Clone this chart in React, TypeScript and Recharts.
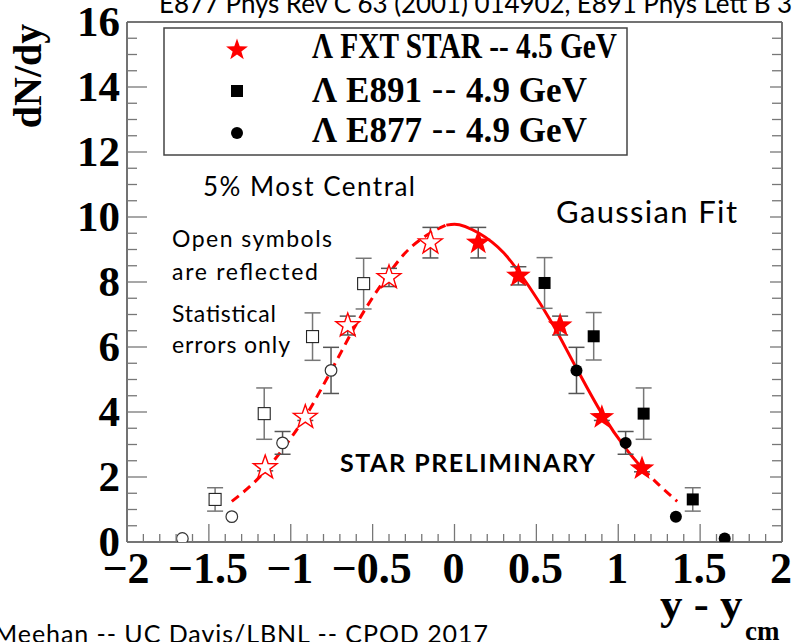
import { ComposedChart, Line, Scatter, XAxis, YAxis, ErrorBar, ReferenceLine } from 'recharts'

// STAR fixed-target, measured side (filled stars)
const starX = [0.145, 0.39, 0.645, 0.9, 1.145]
const starY = [9.21, 8.19, 6.66, 3.84, 2.26]
const starErr = [0.47, 0.28, 0.29, 0.1, 0.1]
// reflected STAR points (open stars)
const starReflX = [-0.147, -0.4, -0.652, -0.911, -1.156]
const starReflY = [9.21, 8.14, 6.66, 3.84, 2.29]
const starReflErr = [0.47, 0.28, 0.29, 0.1, 0.1]

// E891 (squares)
const e891X = [0.55, 0.85, 1.155, 1.455]
const e891Y = [7.97, 6.33, 3.95, 1.31]
const e891Err = [0.78, 0.73, 0.79, 0.36]
const e891ReflX = [-0.555, -0.867, -1.162, -1.462]
const e891ReflY = [7.95, 6.32, 3.95, 1.31]
const e891ReflErr = [0.78, 0.73, 0.79, 0.36]

// E877 (circles)
const e877X = [0.745, 1.045, 1.352, 1.65]
const e877Y = [5.28, 3.05, 0.78, 0.11]
const e877Err = [0.71, 0.35, 0, 0]
const e877ReflX = [-0.754, -1.05, -1.36, -1.662]
const e877ReflY = [5.28, 3.05, 0.78, 0.11]
const e877ReflErr = [0.71, 0.35, 0, 0]

// gaussian fit
const fitLeftX = [-1.36, -1.2, -1.05, -0.9, -0.75, -0.6, -0.45, -0.3, -0.15, -0.05]
const fitLeftY = [1.25, 1.95, 2.85, 3.95, 5.3, 6.7, 7.9, 8.9, 9.5, 9.75]
const fitMidX = [-0.05, 0, 0.15, 0.3, 0.45, 0.6, 0.75, 0.9, 1.05, 1.15]
const fitMidY = [9.75, 9.78, 9.5, 8.9, 7.9, 6.7, 5.3, 3.95, 2.85, 2.25]
const fitRightX = [1.15, 1.25, 1.36]
const fitRightY = [2.25, 1.75, 1.25]

const xMajor = [-2, -1.5, -1, -0.5, 0, 0.5, 1, 1.5, 2]
const xLabels = ['\u22122', '\u22121.5', '\u22121', '\u22120.5', '0', '0.5', '1', '1.5', '2']
const yMajor = [0, 2, 4, 6, 8, 10, 12, 14, 16]
const yLabels = ['0', '2', '4', '6', '8', '10', '12', '14', '16']

const xTicks = Array.from({ length: 41 }, (_, i) => (i - 20) / 10)
const yTicks = Array.from({ length: 33 }, (_, i) => i / 2)

const pts = (xs: number[], ys: number[], es: number[]) => xs.map((x, i) => ({ x, y: ys[i], e: es[i] }))
const line = (xs: number[], ys: number[]) => xs.map((x, i) => ({ x, y: ys[i] }))

const RED = '#ff0000'
const SERIF = '"Liberation Serif", "Times New Roman", serif'
const SANS = 'Lato, "Open Sans", sans-serif'

function starPath(cx: number, cy: number, R: number) {
  const r = R * 0.4
  let d = ''
  for (let i = 0; i < 10; i++) {
    const rad = i % 2 === 0 ? R : r
    const a = -Math.PI / 2 + (i * Math.PI) / 5
    d += (i === 0 ? 'M' : 'L') + (cx + rad * Math.cos(a)).toFixed(2) + ',' + (cy + rad * Math.sin(a)).toFixed(2)
  }
  return d + 'Z'
}

const FilledStar = (p: any) => <path d={starPath(p.cx, p.cy, 13)} fill={RED} />
const OpenStar = (p: any) => <path d={starPath(p.cx, p.cy, 12.5)} fill="#fff" stroke={RED} strokeWidth={1.4} />
const FilledSquare = (p: any) => <rect x={p.cx - 6} y={p.cy - 6} width={12} height={12} fill="#000" />
const OpenSquare = (p: any) => <rect x={p.cx - 6} y={p.cy - 6} width={12} height={12} fill="#fff" stroke="#222" strokeWidth={1.1} />
const FilledCircle = (p: any) => <circle cx={p.cx} cy={p.cy} r={6} fill="#000" />
const OpenCircle = (p: any) => <circle cx={p.cx} cy={p.cy} r={5.8} fill="#fff" stroke="#333" strokeWidth={1.2} />

const isMajor = (v: number, step: number) => Math.abs(v / step - Math.round(v / step)) < 1e-6

const LeftTick = (p: any) => {
  const v = p.payload.value
  const idx = yMajor.indexOf(v)
  return (
    <g>
      <line x1={p.x} x2={p.x + (idx >= 0 ? 20 : 10)} y1={p.y} y2={p.y} stroke="#777" strokeWidth={1.3} />
      {idx >= 0 && (
        <text x={p.x - 7} y={p.y + 14} textAnchor="end" fontFamily={SERIF} fontWeight="bold" fontSize={43} fill="#000">
          {yLabels[idx]}
        </text>
      )}
    </g>
  )
}

const RightTick = (p: any) => {
  const v = p.payload.value
  return <line x1={p.x} x2={p.x - (isMajor(v, 2) ? 12 : 10)} y1={p.y} y2={p.y} stroke="#777" strokeWidth={1.3} />
}

const BottomTick = (p: any) => {
  const v = p.payload.value
  const idx = xMajor.findIndex(m => Math.abs(m - v) < 1e-6)
  return (
    <g>
      <line x1={p.x} x2={p.x} y1={p.y} y2={p.y - (idx >= 0 ? 18 : 8)} stroke="#777" strokeWidth={1.3} />
      {idx >= 0 && (
        <text x={p.x - 1} y={p.y + 41} textAnchor="middle" fontFamily={SERIF} fontWeight="bold" fontSize={44} fill="#000">
          {xLabels[idx]}
        </text>
      )}
    </g>
  )
}

function Annotations() {
  return (
    <svg width={792} height={642} style={{ position: 'absolute', left: 0, top: 0, pointerEvents: 'none' }}>
      <text x={159} y={13} fontFamily={SANS} fontSize={26} fill="#000" textLength={633}>
        E877 Phys Rev C 63 (2001) 014902, E891 Phys Lett B 3
      </text>
      <text transform="translate(41,76) rotate(-90)" textAnchor="middle" fontFamily={SERIF} fontWeight="bold" fontSize={40} fill="#000">
        dN/dy
      </text>
      <text x={660} y={619} fontFamily={SERIF} fontWeight="bold" fontSize={45} fill="#000">y - y</text>
      <text x={745} y={640} fontFamily={SERIF} fontWeight="bold" fontSize={27} fill="#000">cm</text>
      <text x={-6} y={643} fontFamily={SANS} fontSize={25} fill="#000" textLength={494}>
        Meehan -- UC Davis/LBNL -- CPOD 2017
      </text>

      <rect x={164} y={28} width={463} height={127} fill="#fff" stroke="#444" strokeWidth={1.5} />
      <path d={starPath(237, 50, 11.5)} fill={RED} />
      <rect x={231} y={85} width={12} height={12} fill="#000" />
      <circle cx={237} cy={133} r={6} fill="#000" />
      <text x={312} y={58} fontFamily={SERIF} fontWeight="bold" fontSize={35} fill="#000" textLength={305} lengthAdjust="spacingAndGlyphs">
        {'\u039B FXT STAR -- 4.5 GeV'}
      </text>
      <text x={312} y={102} fontFamily={SERIF} fontWeight="bold" fontSize={35} fill="#000" textLength={275}>
        {'\u039B E891 '}<tspan fontFamily={SANS} fontWeight="normal">--</tspan>{' 4.9 GeV'}
      </text>
      <text x={312} y={142} fontFamily={SERIF} fontWeight="bold" fontSize={35} fill="#000" textLength={275}>
        {'\u039B E877 '}<tspan fontFamily={SANS} fontWeight="normal">--</tspan>{' 4.9 GeV'}
      </text>

      <text x={203} y={196} fontFamily={SANS} fontSize={26} fill="#000" textLength={212}>5% Most Central</text>
      <text x={556} y={223} fontFamily={SANS} fontSize={31} fill="#000" textLength={181}>Gaussian Fit</text>
      <text x={172} y={247} fontFamily={SANS} fontSize={23} fill="#000" textLength={160}>Open symbols</text>
      <text x={172} y={280} fontFamily={SANS} fontSize={23} fill="#000" textLength={146}>are reflected</text>
      <text x={172} y={322} fontFamily={SANS} fontSize={23} fill="#000" textLength={104}>Statistical</text>
      <text x={172} y={353} fontFamily={SANS} fontSize={23} fill="#000" textLength={118}>errors only</text>
      <text x={340} y={472} fontFamily={SANS} fontWeight="bold" fontSize={25} fill="#000" textLength={255}>STAR PRELIMINARY</text>
    </svg>
  )
}

export default function App() {
  return (
    <div style={{ position: 'relative', width: 792, height: 642, overflow: 'hidden', background: '#fff' }}>
      <style>{'body{margin:0}'}</style>
      <ComposedChart width={792} height={642} margin={{ top: 22, right: 0, bottom: 0, left: 0 }}>
        <XAxis
          type="number"
          dataKey="x"
          domain={[-2, 2]}
          ticks={xTicks}
          interval={0}
          tickSize={0}
          tickMargin={0}
          height={100}
          axisLine={{ stroke: '#444', strokeWidth: 1.5 }}
          tick={(p: any) => <BottomTick {...p} />}
          allowDataOverflow
        />
        <YAxis
          type="number"
          domain={[0, 16]}
          ticks={yTicks}
          interval={0}
          width={127}
          tickSize={0}
          tickMargin={0}
          axisLine={{ stroke: '#444', strokeWidth: 1.5 }}
          tick={(p: any) => <LeftTick {...p} />}
          allowDataOverflow
        />
        <YAxis
          yAxisId="r"
          orientation="right"
          type="number"
          domain={[0, 16]}
          ticks={yTicks}
          interval={0}
          width={10}
          tickSize={0}
          tickMargin={0}
          axisLine={{ stroke: '#444', strokeWidth: 1.5 }}
          tick={(p: any) => <RightTick {...p} />}
          allowDataOverflow
        />
        <ReferenceLine y={16} stroke="#444" strokeWidth={1.5} />

        <Line data={line(fitLeftX, fitLeftY)} dataKey="y" type="monotone" stroke={RED} strokeWidth={3} strokeDasharray="9 6" dot={false} isAnimationActive={false} />
        <Line data={line(fitMidX, fitMidY)} dataKey="y" type="monotone" stroke={RED} strokeWidth={3} dot={false} isAnimationActive={false} />
        <Line data={line(fitRightX, fitRightY)} dataKey="y" type="monotone" stroke={RED} strokeWidth={3} strokeDasharray="9 6" dot={false} isAnimationActive={false} />

        <Scatter data={pts(e891ReflX, e891ReflY, e891ReflErr)} dataKey="y" shape={OpenSquare} isAnimationActive={false}>
          <ErrorBar dataKey="e" direction="y" width={8} stroke="#777" strokeWidth={1.5} />
        </Scatter>
        <Scatter data={pts(e877ReflX, e877ReflY, e877ReflErr)} dataKey="y" shape={OpenCircle} isAnimationActive={false}>
          <ErrorBar dataKey="e" direction="y" width={8} stroke="#555" strokeWidth={1.5} />
        </Scatter>
        <Scatter data={pts(starReflX, starReflY, starReflErr)} dataKey="y" shape={OpenStar} isAnimationActive={false}>
          <ErrorBar dataKey="e" direction="y" width={8} stroke="#555" strokeWidth={1.5} />
        </Scatter>
        <Scatter data={pts(e891X, e891Y, e891Err)} dataKey="y" shape={FilledSquare} isAnimationActive={false}>
          <ErrorBar dataKey="e" direction="y" width={8} stroke="#777" strokeWidth={1.5} />
        </Scatter>
        <Scatter data={pts(e877X, e877Y, e877Err)} dataKey="y" shape={FilledCircle} isAnimationActive={false}>
          <ErrorBar dataKey="e" direction="y" width={8} stroke="#555" strokeWidth={1.5} />
        </Scatter>
        <Scatter data={pts(starX, starY, starErr)} dataKey="y" shape={FilledStar} isAnimationActive={false}>
          <ErrorBar dataKey="e" direction="y" width={8} stroke="#555" strokeWidth={1.5} />
        </Scatter>
      </ComposedChart>
      <Annotations />
    </div>
  )
}
